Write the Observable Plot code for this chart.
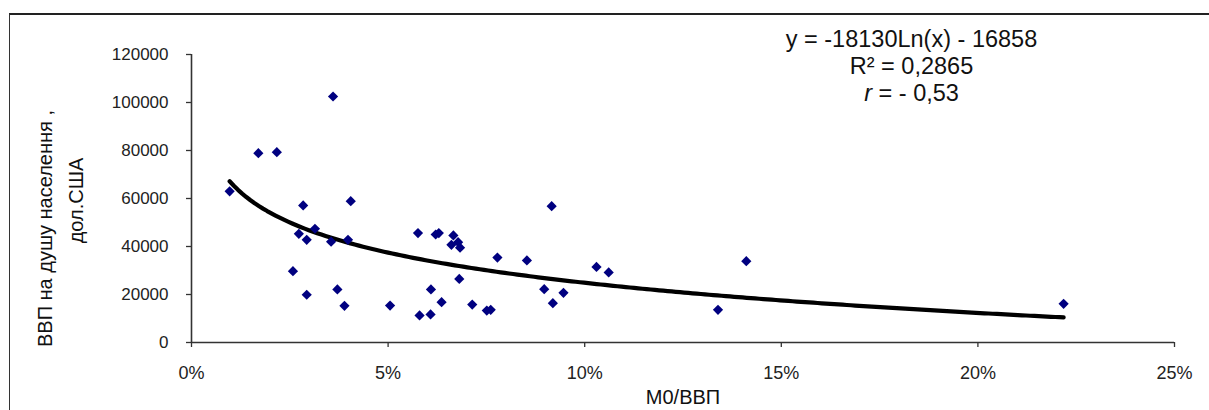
<!DOCTYPE html>
<html><head><meta charset="utf-8">
<script src="https://cdn.jsdelivr.net/npm/d3@7"></script>
<script src="https://cdn.jsdelivr.net/npm/@observablehq/plot@0.6"></script>
<style>
body{margin:0;background:#fff;}
#wrap{position:relative;width:1209px;height:410px;overflow:hidden;background:#fff;}
#border{position:absolute;left:9px;top:13px;width:1400px;height:600px;border-left:1.5px solid #333;border-top:2px solid #222;}
#chart{position:absolute;left:0;top:0;}
</style></head><body>
<div id="wrap"><div id="border"></div><div id="chart"></div></div>
<script>
// M0 / GDP, percent
const m0Pct = [0.97, 1.70, 2.17, 3.60, 2.84, 4.05, 2.73, 3.14, 2.93, 3.55, 3.98, 2.58, 3.71, 2.93, 3.89, 5.05,
  5.80, 5.76, 6.21, 6.29, 6.66, 6.61, 6.78, 6.83, 7.78, 8.53, 9.16, 10.30, 10.61, 6.81, 6.09, 8.97, 9.46,
  6.36, 9.19, 7.14, 7.51, 7.61, 6.08, 14.11, 13.39, 22.18];
// GDP per capita, USD
const gdpPerCap = [63000, 78900, 79300, 102500, 57100, 58900, 45300, 47400, 42800, 42000, 42800, 29700, 22100, 19900, 15300, 15400,
  11300, 45600, 45000, 45600, 44600, 40700, 41800, 39500, 35400, 34200, 56800, 31500, 29200, 26500, 22100, 22200, 20700,
  16800, 16400, 15800, 13300, 13600, 11700, 33900, 13600, 16100];
const xTicks = [0, 5, 10, 15, 20, 25];
const yTicks = [0, 20000, 40000, 60000, 80000, 100000, 120000];
// Logarithmic trend line shown on the chart: y = a*ln(x) + b
const trendCoef = [-18130, -16858];
const xTitle = "М0/ВВП";
const yTitle = ["ВВП на душу населення ,", "дол.США"];
const eqLines = ["y = -18130Ln(x) - 16858", "R² = 0,2865"];
const rLine = ["r", " = - 0,53"];

const points = m0Pct.map((x, i) => ({x, y: gdpPerCap[i]}));
const [x0, x1] = d3.extent(m0Pct);
const trend = d3.range(0, 201).map(i => {
  const x = x0 + (x1 - x0) * i / 200;
  return {x, y: trendCoef[0] * Math.log(x / 100) + trendCoef[1]};
});

const font = "'Liberation Sans', Arial, sans-serif";
const plot = Plot.plot({
  width: 1209, height: 410,
  marginLeft: 191, marginRight: 35, marginTop: 54, marginBottom: 68,
  style: {fontFamily: font, background: "transparent", color: "#222", overflow: "visible"},
  x: {domain: [0, 25]},
  y: {domain: [0, 120000]},
  marks: [
    Plot.axisY({ticks: yTicks, tickFormat: d => String(d), tickSize: 5, tickPadding: 18, fontSize: 17, label: null, stroke: "#333", strokeWidth: 1.3}),
    Plot.axisX({ticks: xTicks, tickFormat: d => d + "%", tickSize: 5, tickPadding: 19, fontSize: 18, label: null, stroke: "#333", strokeWidth: 1.3}),
    Plot.ruleX([0], {stroke: "#333", strokeWidth: 1.6}),
    Plot.ruleY([0], {stroke: "#333", strokeWidth: 1.6}),
    Plot.line(trend, {x: "x", y: "y", stroke: "#000", strokeWidth: 4.2, curve: "linear"}),
    Plot.dot(points, {x: "x", y: "y", symbol: "diamond2", r: 4.6, fill: "#000080", stroke: null}),
    Plot.text([xTitle], {frameAnchor: "bottom", textAnchor: "middle", lineAnchor: "middle", dy: 55, fontSize: 20, fill: "#111"}),
    Plot.text([yTitle[0]], {frameAnchor: "left", textAnchor: "middle", lineAnchor: "middle", rotate: -90, dx: -146, dy: 30, fontSize: 20, fill: "#111"}),
    Plot.text([yTitle[1]], {frameAnchor: "left", textAnchor: "middle", lineAnchor: "middle", rotate: -90, dx: -115, dy: 2, fontSize: 20, fill: "#111"}),
    Plot.text([eqLines[0]], {frameAnchor: "top", textAnchor: "middle", lineAnchor: "middle", dx: 228.5, dy: -15, fontSize: 23.5, fill: "#111"}),
    Plot.text([eqLines[1]], {frameAnchor: "top", textAnchor: "middle", lineAnchor: "middle", dx: 228.5, dy: 12, fontSize: 23.5, fill: "#111"}),
    Plot.text([rLine[0]], {frameAnchor: "top", textAnchor: "end", lineAnchor: "middle", dx: 189, dy: 39, fontSize: 23.5, fontStyle: "italic", fill: "#111"}),
    Plot.text([rLine[1]], {frameAnchor: "top", textAnchor: "start", lineAnchor: "middle", dx: 189, dy: 39, fontSize: 23.5, fill: "#111"})
  ]
});
document.getElementById("chart").appendChild(plot);
</script>
</body></html>
